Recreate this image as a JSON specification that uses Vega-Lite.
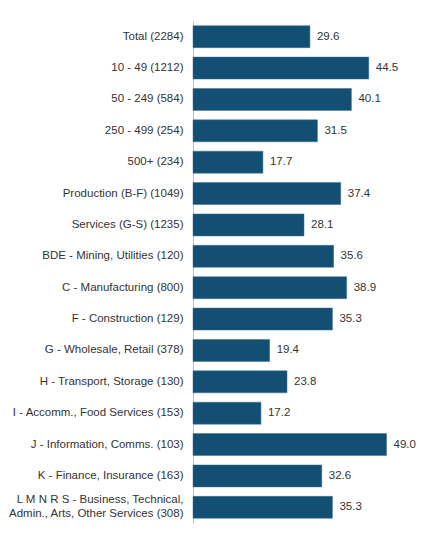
{
  "$schema": "https://vega.github.io/schema/vega-lite/v6.json",
  "width": 237,
  "height": 502,
  "autosize": {"type": "none"},
  "padding": {"left": 193, "top": 21, "right": 14, "bottom": 15},
  "background": "white",
  "config": {
    "view": {"stroke": null},
    "font": "Liberation Sans"
  },
  "data": {
    "values": [
      {"group": "Total (2284)", "pct": 29.6},
      {"group": "10 - 49 (1212)", "pct": 44.5},
      {"group": "50 - 249 (584)", "pct": 40.1},
      {"group": "250 - 499 (254)", "pct": 31.5},
      {"group": "500+ (234)", "pct": 17.7},
      {"group": "Production (B-F) (1049)", "pct": 37.4},
      {"group": "Services (G-S) (1235)", "pct": 28.1},
      {"group": "BDE - Mining, Utilities (120)", "pct": 35.6},
      {"group": "C - Manufacturing (800)", "pct": 38.9},
      {"group": "F - Construction (129)", "pct": 35.3},
      {"group": "G - Wholesale, Retail (378)", "pct": 19.4},
      {"group": "H - Transport, Storage (130)", "pct": 23.8},
      {"group": "I - Accomm., Food Services (153)", "pct": 17.2},
      {"group": "J - Information, Comms. (103)", "pct": 49.0},
      {"group": "K - Finance, Insurance (163)", "pct": 32.6},
      {"group": "L M N R S - Business, Technical,|Admin., Arts, Other Services (308)", "pct": 35.3}
    ]
  },
  "encoding": {
    "y": {
      "field": "group",
      "type": "nominal",
      "sort": null,
      "scale": {"paddingInner": 0.3, "paddingOuter": 0.15},
      "axis": {
        "title": null,
        "ticks": false,
        "domain": true,
        "domainColor": "#c0c0c0",
        "domainWidth": 1,
        "labelFontSize": 11.5,
        "labelColor": "#333333",
        "labelPadding": 10,
        "labelLimit": 300,
        "labelLineHeight": 14,
        "labelOffset": {
          "condition": {"test": "indexof(datum.value, '|') >= 0", "value": -7},
          "value": 0
        },
        "labelExpr": "split(datum.label, '|')"
      }
    },
    "x": {
      "field": "pct",
      "type": "quantitative",
      "scale": {"domain": [0, 60], "nice": false},
      "axis": null
    }
  },
  "layer": [
    {
      "mark": {"type": "bar", "color": "#134f72", "stroke": "#3a7096", "strokeWidth": 0.5}
    },
    {
      "mark": {"type": "text", "align": "left", "baseline": "middle", "dx": 7, "fontSize": 11.5, "color": "#333333"},
      "encoding": {
        "text": {"field": "pct", "type": "quantitative", "format": ".1f"}
      }
    }
  ]
}
